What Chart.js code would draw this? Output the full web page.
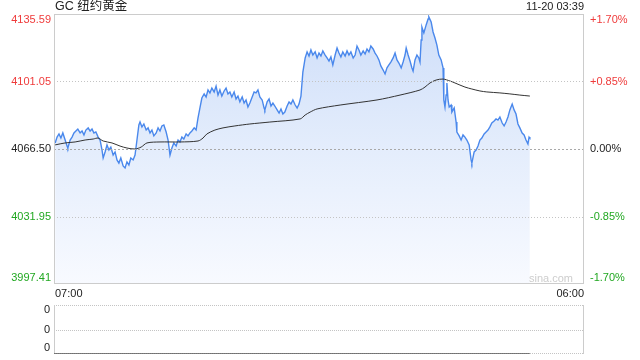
<!DOCTYPE html>
<html>
<head>
<meta charset="utf-8">
<script src="https://cdn.jsdelivr.net/npm/chart.js@4.4.0/dist/chart.umd.min.js"></script>
<style>
  html, body { margin: 0; padding: 0; background: #fff; }
  #wrap { position: relative; width: 640px; height: 360px; }
  #wrap canvas { position: absolute; left: 0; top: 0; }
</style>
</head>
<body>
<div id="wrap">
  <canvas id="priceChart" width="640" height="360"></canvas>
  <canvas id="volChart" width="640" height="360"></canvas>
</div>
<script>
// GC gold intraday, 07:00 -> 06:00 next day, last tick 03:39
const titleText = 'GC 纽约黄金';
const stampText = '11-20 03:39';
const timeLabels = ['07:00', '06:00'];
const timeRange = [0, 1380]; // minutes after 07:00
const priceTicks = [4135.59, 4101.05, 4066.50, 4031.95, 3997.41];
const pctTicks = ['+1.70%', '+0.85%', '0.00%', '-0.85%', '-1.70%'];

// price line (minutes after 07:00, price)
const minutes = [
  3, 8, 13, 18, 23, 29, 34, 36, 42, 47,
  52, 57, 62, 68, 73, 78, 83, 89, 94, 99,
  104, 109, 115, 120, 125, 128, 133, 138, 143, 148,
  154, 159, 164, 169, 174, 180, 185, 190, 195, 200,
  206, 211, 216, 221, 224, 229, 234, 240, 245, 250,
  255, 260, 266, 271, 276, 281, 286, 292, 297, 302,
  307, 312, 318, 323, 328, 333, 338, 344, 349, 354,
  359, 365, 370, 375, 380, 385, 391, 396, 401, 406,
  411, 417, 422, 427, 432, 437, 443, 448, 453, 458,
  463, 469, 474, 479, 484, 490, 495, 500, 505, 510,
  516, 521, 526, 531, 536, 542, 547, 549, 555, 560,
  565, 570, 575, 581, 586, 591, 596, 601, 607, 612,
  617, 622, 628, 633, 638, 643, 648, 654, 659, 664,
  669, 674, 680, 685, 690, 695, 700, 706, 711, 716,
  721, 726, 732, 737, 742, 747, 752, 758, 763, 768,
  773, 779, 784, 789, 794, 799, 805, 810, 815, 820,
  825, 831, 836, 841, 846, 851, 857, 862, 867, 872,
  877, 883, 888, 893, 898, 904, 909, 914, 917, 922,
  927, 932, 935, 940, 945, 950, 953, 956, 958, 963,
  969, 974, 976, 982, 987, 992, 997, 1002, 1008, 1013,
  1015, 1018, 1021, 1023, 1026, 1029, 1034, 1036, 1042, 1047,
  1049, 1055, 1060, 1065, 1070, 1075, 1081, 1086, 1088, 1094,
  1099, 1104, 1109, 1114, 1120, 1125, 1130, 1135, 1140, 1146,
  1151, 1156, 1161, 1167, 1172, 1177, 1182, 1187, 1193, 1198,
  1203, 1208, 1213, 1219, 1224, 1229, 1234, 1237, 1239
];
const prices = [
  4069.6, 4072.6, 4074.2, 4072.1, 4074.7, 4071.1, 4068.0, 4067.0, 4071.1, 4072.6,
  4074.7, 4075.7, 4076.7, 4074.7, 4075.7, 4073.7, 4076.2, 4077.3, 4075.7, 4076.7,
  4074.7, 4075.2, 4072.6, 4071.1, 4066.0, 4061.9, 4065.0, 4068.6, 4066.0, 4067.5,
  4063.4, 4065.0, 4060.9, 4059.3, 4061.9, 4057.8, 4056.8, 4059.9, 4058.3, 4061.9,
  4060.9, 4063.4, 4071.1, 4078.8, 4080.3, 4077.8, 4079.3, 4076.2, 4077.3, 4074.7,
  4076.2, 4073.2, 4074.7, 4077.3, 4075.7, 4078.3, 4078.8, 4075.2, 4071.1, 4063.4,
  4067.0, 4069.6, 4068.0, 4071.1, 4070.1, 4072.6, 4071.6, 4074.2, 4073.2, 4074.7,
  4075.7, 4077.3, 4076.2, 4082.4, 4087.5, 4092.6, 4094.7, 4093.1, 4096.7, 4095.2,
  4097.7, 4095.7, 4098.7, 4094.1, 4096.7, 4093.6, 4096.2, 4097.7, 4094.7, 4095.7,
  4093.1, 4095.7, 4092.1, 4093.6, 4090.6, 4093.1, 4090.0, 4091.6, 4088.0, 4090.0,
  4093.1, 4095.7, 4095.2, 4096.7, 4093.1, 4091.6, 4087.5, 4086.5, 4090.6, 4092.1,
  4088.5, 4090.0, 4088.5, 4086.5, 4084.9, 4087.0, 4084.4, 4085.4, 4088.5, 4090.6,
  4089.5, 4091.6, 4089.0, 4087.5, 4089.5, 4093.6, 4105.9, 4113.1, 4116.2, 4114.1,
  4117.2, 4114.6, 4116.2, 4113.1, 4115.6, 4114.1, 4116.7, 4114.6, 4113.1, 4111.5,
  4113.6, 4109.5, 4114.6, 4118.2, 4115.6, 4113.6, 4116.2, 4114.1, 4116.7, 4114.6,
  4116.2, 4113.1, 4114.6, 4119.2, 4117.2, 4114.6, 4116.7, 4115.1, 4117.7, 4116.2,
  4119.2, 4117.7, 4115.6, 4114.1, 4112.1, 4109.0, 4106.9, 4104.9, 4108.0, 4109.5,
  4111.0, 4113.1, 4115.6, 4112.1, 4110.5, 4108.0, 4111.0, 4114.6, 4118.2, 4114.6,
  4111.5, 4108.0, 4106.4, 4112.1, 4114.6, 4113.1, 4111.0, 4122.3, 4128.9, 4125.9,
  4130.0, 4133.0, 4134.1, 4131.5, 4126.4, 4123.3, 4119.7, 4114.6, 4112.1, 4108.0,
  4091.6, 4088.0, 4094.1, 4100.3, 4091.6, 4088.0, 4089.0, 4085.4, 4087.5, 4080.3,
  4075.2, 4073.2, 4071.1, 4073.7, 4072.6, 4071.1, 4068.6, 4060.9, 4059.3, 4065.0,
  4066.0, 4068.0, 4071.1, 4072.1, 4074.2, 4075.2, 4076.2, 4077.8, 4079.8, 4080.8,
  4081.9, 4081.3, 4082.9, 4079.8, 4078.3, 4080.3, 4082.9, 4086.5, 4089.5, 4086.5,
  4084.4, 4079.3, 4077.3, 4074.7, 4073.7, 4071.1, 4069.1, 4072.6, 4072.1
];

// average price line
const avgMinutes = [3, 29, 55, 81, 102, 115, 128, 151, 172, 190,
  211, 227, 242, 276, 328, 375, 388, 398, 419, 440,
  471, 510, 562, 641, 654, 667, 685, 745, 841, 901,
  953, 966, 979, 995, 1013, 1031, 1044, 1070, 1088, 1109,
  1127, 1161, 1187, 1213, 1239];
const avgPrices = [4068.6, 4069.6, 4070.1, 4071.1, 4071.6, 4072.1, 4070.6, 4069.6, 4068.0, 4067.0,
  4066.5, 4067.5, 4069.6, 4070.1, 4070.1, 4070.6, 4072.1, 4074.2, 4076.2, 4077.3,
  4078.3, 4079.3, 4080.3, 4081.9, 4083.9, 4085.4, 4087.0, 4089.0, 4091.6, 4094.1,
  4096.7, 4098.2, 4100.3, 4101.8, 4102.3, 4101.3, 4100.3, 4098.2, 4097.2, 4096.2,
  4095.7, 4095.2, 4094.7, 4094.1, 4093.6];

// volume panel (no volume traded)
const volMinutes = [0, 1239];
const volValues = [0, 0];
const volTicks = [1, 0.5, 0];
const volTickLabels = ['0', '0', '0'];

const FONT = "'Liberation Sans', Arial, 'Noto Sans CJK SC', sans-serif";
const RED = '#ef3b3b';
const GREEN = '#22a822';

const pricePoints = minutes.map((m, i) => ({ x: m, y: prices[i] }));
const avgPoints = avgMinutes.map((m, i) => ({ x: m, y: avgPrices[i] }));
const volPoints = volMinutes.map((m, i) => ({ x: m, y: volValues[i] }));

function hLine(ctx, x0, x1, y, dash, color) {
    ctx.beginPath();
    ctx.setLineDash(dash);
    ctx.strokeStyle = color;
    ctx.lineWidth = 1;
    ctx.moveTo(x0, y);
    ctx.lineTo(x1, y);
    ctx.stroke();
}

function vLine(ctx, x, y0, y1, color) {
    ctx.beginPath();
    ctx.setLineDash([]);
    ctx.strokeStyle = color;
    ctx.lineWidth = 1;
    ctx.moveTo(x, y0);
    ctx.lineTo(x, y1);
    ctx.stroke();
}

// grid, frame and all texts of the price panel
const priceDecor = {
    id: 'priceDecor',
    afterDatasetsDraw(chart) {
        const { ctx, chartArea: a, scales: { x, y } } = chart;
        ctx.save();
        priceTicks.forEach((v, i) => {
            if (i === 0 || i === priceTicks.length - 1) return;
            const py = Math.round(y.getPixelForValue(v)) + 0.5;
            if (i === 2) hLine(ctx, a.left, a.right, py, [2, 2], '#a9a9a9');
            else hLine(ctx, a.left, a.right, py, [1, 2], '#c4c4c4');
        });
        ctx.setLineDash([]);
        ctx.strokeStyle = '#cccccc';
        ctx.lineWidth = 1;
        ctx.strokeRect(a.left + 0.5, a.top + 0.5, a.right - a.left - 1, a.bottom - a.top - 1);

        ctx.font = '11px ' + FONT;
        ctx.textBaseline = 'middle';
        priceTicks.forEach((v, i) => {
            let py = y.getPixelForValue(v);
            if (i === 0) py += 6;
            if (i === priceTicks.length - 1) py -= 6;
            ctx.fillStyle = i < 2 ? RED : (i === 2 ? '#222' : GREEN);
            ctx.textAlign = 'right';
            ctx.fillText(v.toFixed(2), a.left - 3, py);
            ctx.textAlign = 'left';
            ctx.fillText(pctTicks[i], a.right + 6, py);
        });

        ctx.fillStyle = '#222';
        ctx.textAlign = 'left';
        ctx.fillText(timeLabels[0], x.getPixelForValue(timeRange[0]) + 1, a.bottom + 10);
        ctx.textAlign = 'right';
        ctx.fillText(timeLabels[1], x.getPixelForValue(timeRange[1]), a.bottom + 10);
        ctx.fillText(stampText, a.right, a.top - 7);

        ctx.fillStyle = '#cdcdcd';
        ctx.fillText('sina.com', a.right - 11, a.bottom - 5);

        ctx.font = '12.5px ' + FONT;
        ctx.fillStyle = '#222';
        ctx.textAlign = 'left';
        ctx.fillText(titleText, a.left + 1, a.top - 7);
        ctx.restore();
    }
};

new Chart(document.getElementById('priceChart'), {
    type: 'line',
    data: {
        datasets: [{
            data: pricePoints,
            order: 1,
            borderColor: '#4a88ec',
            borderWidth: 1.4,
            pointRadius: 0,
            tension: 0,
            fill: 'start',
            backgroundColor: (context) => {
                const { chart } = context;
                const a = chart.chartArea;
                if (!a) return 'rgba(210, 225, 250, 0.8)';
                const g = chart.ctx.createLinearGradient(0, a.top, 0, a.bottom);
                g.addColorStop(0, 'rgb(206, 222, 249)');
                g.addColorStop(0.5, 'rgb(228, 237, 252)');
                g.addColorStop(1, 'rgb(248, 250, 255)');
                return g;
            }
        }, {
            data: avgPoints,
            order: 0,
            borderColor: '#333333',
            borderWidth: 1,
            pointRadius: 0,
            tension: 0.3,
            fill: false
        }]
    },
    options: {
        responsive: false,
        animation: false,
        layout: { padding: { left: 54, right: 56, top: 14, bottom: 76 } },
        plugins: { legend: { display: false }, tooltip: { enabled: false } },
        scales: {
            x: { type: 'linear', min: timeRange[0], max: timeRange[1], display: false },
            y: { min: priceTicks[priceTicks.length - 1], max: priceTicks[0], display: false }
        }
    },
    plugins: [priceDecor]
});

// frame and labels of the volume panel
const volDecor = {
    id: 'volDecor',
    beforeDatasetsDraw(chart) {
        const { ctx, chartArea: a, scales: { y } } = chart;
        ctx.save();
        volTicks.forEach((v) => {
            const py = Math.round(y.getPixelForValue(v)) + (v === 0 ? -0.5 : 0.5);
            hLine(ctx, a.left, a.right, py, [1, 1], '#c4c4c4');
        });
        vLine(ctx, a.left + 0.5, a.top, a.bottom, '#cccccc');
        vLine(ctx, a.right - 0.5, a.top, a.bottom, '#cccccc');

        ctx.font = '11px ' + FONT;
        ctx.textBaseline = 'middle';
        ctx.textAlign = 'right';
        ctx.fillStyle = '#222';
        volTicks.forEach((v, i) => {
            let py = y.getPixelForValue(v);
            if (i === 0) py += 5;
            if (i === volTicks.length - 1) py -= 6;
            ctx.fillText(volTickLabels[i], a.left - 4, py);
        });
        ctx.restore();
    }
};

new Chart(document.getElementById('volChart'), {
    type: 'line',
    data: {
        datasets: [{
            data: volPoints,
            borderColor: '#555555',
            borderWidth: 1.5,
            pointRadius: 0,
            fill: false
        }]
    },
    options: {
        responsive: false,
        animation: false,
        layout: { padding: { left: 54, right: 56, top: 305, bottom: 6 } },
        plugins: { legend: { display: false }, tooltip: { enabled: false } },
        scales: {
            x: { type: 'linear', min: timeRange[0], max: timeRange[1], display: false },
            y: { min: 0, max: 1, display: false }
        }
    },
    plugins: [volDecor]
});
</script>
</body>
</html>
